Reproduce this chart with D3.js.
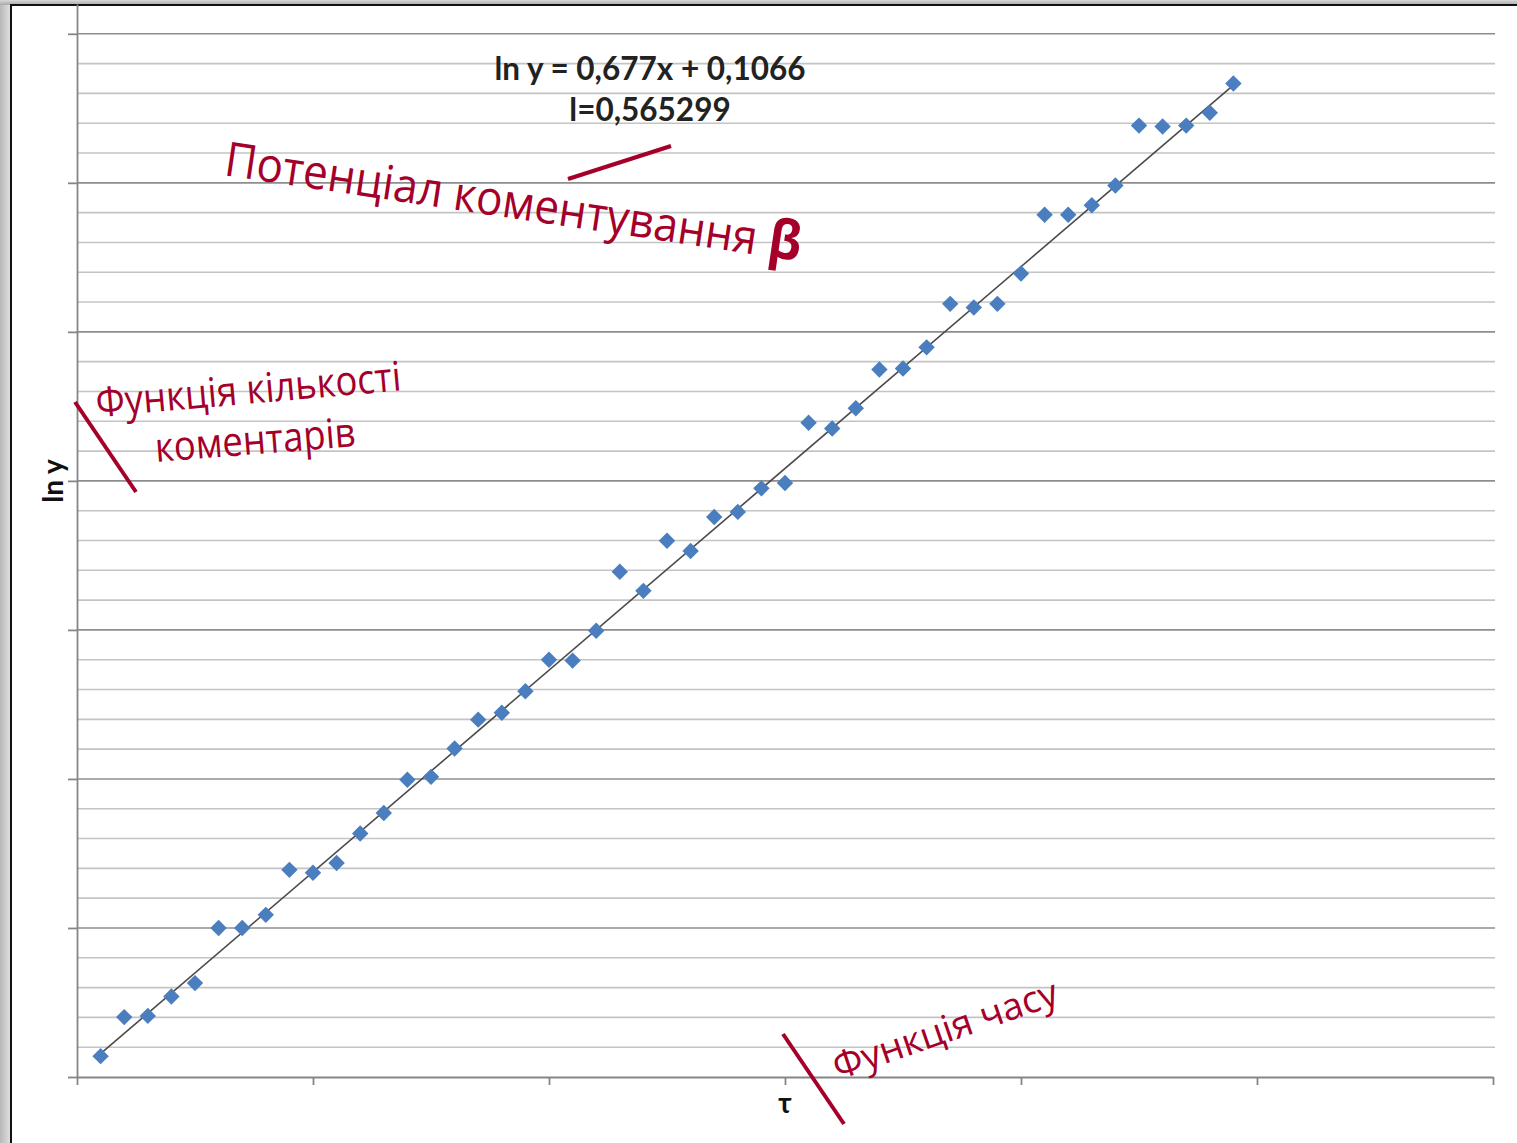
<!DOCTYPE html>
<html><head><meta charset="utf-8">
<script src="https://cdn.jsdelivr.net/npm/d3@7"></script>
<style>body{margin:0;background:#fff;overflow:hidden} svg{display:block}</style>
</head><body>
<script>
// ---- data ----
const xValues = [1,2,3,4,5,6,7,8,9,10,11,12,13,14,15,16,17,18,19,20,21,22,23,24,25,26,27,28,29,30,31,32,33,34,35,36,37,38,39,40,41,42,43,44,45,46,47,48,49];
const lnYValues = [0.70,2.01,2.05,2.70,3.15,5.00,5.00,5.44,6.95,6.85,7.18,8.17,8.86,9.97,10.07,11.02,11.99,12.22,12.94,14.00,13.97,14.97,16.95,16.31,17.99,17.65,18.79,18.96,19.75,19.93,21.95,21.76,22.44,23.74,23.77,24.48,25.94,25.82,25.94,26.96,28.93,28.93,29.25,29.91,31.92,31.89,31.92,32.35,33.33];
const xTicks = [0,10,20,30,40,50,60];
const yMajorTicks = [0,5,10,15,20,25,30,35];
const yMinorTicks = [1,2,3,4,6,7,8,9,11,12,13,14,16,17,18,19,21,22,23,24,26,27,28,29,31,32,33,34];
const trendSlope = 0.677;
const trendIntercept = 0.1066;
const trendRange = [1,49];
const equationLines = ["ln y = 0,677x + 0,1066", "l=0,565299"];
const xTitle = "τ";
const yTitle = "ln y";
const notePotential = "Потенціал коментування ";
const noteBeta = "β";
const noteCountLines = ["Функція кількості", "коментарів"];
const noteTime = "Функція часу";

// ---- layout ----
const W = 1517, H = 1143;
const RED = "#a4002a";
const svg = d3.select("body").append("svg").attr("width", W).attr("height", H);

const defs = svg.append("defs");
const gl = defs.append("linearGradient").attr("id","lg").attr("x1",0).attr("x2",1).attr("y1",0).attr("y2",0);
gl.append("stop").attr("offset","0%").attr("stop-color","#b8b8b8");
gl.append("stop").attr("offset","100%").attr("stop-color","#e2e2e2");
const gt = defs.append("linearGradient").attr("id","tg").attr("x1",0).attr("x2",0).attr("y1",0).attr("y2",1);
gt.append("stop").attr("offset","0%").attr("stop-color","#d8d8d8");
gt.append("stop").attr("offset","100%").attr("stop-color","#a8a8a8");

svg.append("rect").attr("x",0).attr("y",0).attr("width",W).attr("height",H).attr("fill","#fff");
svg.append("rect").attr("x",0).attr("y",0).attr("width",11).attr("height",H).attr("fill","url(#lg)");
svg.append("rect").attr("x",0).attr("y",0).attr("width",W).attr("height",5).attr("fill","url(#tg)");
svg.append("line").attr("x1",11).attr("x2",11).attr("y1",4).attr("y2",H).attr("stroke","#111").attr("stroke-width",2);
svg.append("line").attr("x1",10).attr("x2",W).attr("y1",5).attr("y2",5).attr("stroke","#111").attr("stroke-width",2);

const x = d3.scaleLinear().domain([0,60]).range([77,1493]);
const y = d3.scaleLinear().domain([0,36]).range([1077,4]);

// gridlines
const grid = svg.append("g");
grid.selectAll("line.minor").data(yMinorTicks).join("line")
  .attr("class","minor")
  .attr("x1", x(0)).attr("x2", x(60)+2)
  .attr("y1", d => y(d)).attr("y2", d => y(d))
  .attr("stroke","#c4c4c4").attr("stroke-width",1.6);
grid.selectAll("line.major").data(yMajorTicks.filter(d => d > 0)).join("line")
  .attr("class","major")
  .attr("x1", x(0)).attr("x2", x(60)+2)
  .attr("y1", d => y(d)).attr("y2", d => y(d))
  .attr("stroke","#8e8e8e").attr("stroke-width",1.6);

// axes
const yAxis = svg.append("g").attr("transform",`translate(${x(0)},0)`)
  .call(d3.axisLeft(y).tickValues(yMajorTicks).tickSize(9).tickSizeOuter(0).tickFormat(""));
const xAxis = svg.append("g").attr("transform",`translate(0,${y(0)})`)
  .call(d3.axisBottom(x).tickValues(xTicks).tickSize(8).tickSizeOuter(0).tickFormat(""));
[yAxis, xAxis].forEach(a => {
  a.selectAll("path,line").attr("stroke","#868686").attr("stroke-width",1.8);
});

// trend line
const line = d3.line().x(d => x(d)).y(d => y(trendSlope*d + trendIntercept));
svg.append("path").datum(trendRange).attr("d", line)
  .attr("fill","none").attr("stroke","#4a4a4a").attr("stroke-width",1.6);

// points
const sym = d3.symbol().type(d3.symbolSquare).size(135);
svg.append("g").selectAll("path").data(xValues.map((v,i) => [v, lnYValues[i]])).join("path")
  .attr("d", sym)
  .attr("transform", d => `translate(${x(d[0])},${y(d[1])}) rotate(45)`)
  .attr("fill","#4a7ebf");

// equation
equationLines.forEach((t,i) => {
  svg.append("text").attr("x",650).attr("y", 80 + i*41)
    .attr("text-anchor","middle")
    .attr("font-family","Lato, 'Open Sans', sans-serif").attr("font-weight","bold")
    .attr("font-size",31.5).attr("fill","#222")
    .text(t);
});

// axis titles
svg.append("text").attr("transform","translate(63,481) rotate(-90)")
  .attr("text-anchor","middle").attr("font-family","Lato, sans-serif").attr("font-weight","bold")
  .attr("font-size",28).attr("fill","#111").text(yTitle);
svg.append("text").attr("x",785).attr("y",1113)
  .attr("text-anchor","middle").attr("font-family","Lato, sans-serif").attr("font-weight","bold")
  .attr("font-size",28).attr("fill","#111").text(xTitle);

// annotations
const ann = svg.append("g").attr("fill",RED).attr("font-family","'Open Sans', 'Noto Sans', sans-serif");
const tp = ann.append("text").attr("transform","translate(223,175) rotate(8.5) scale(1,1.08)")
  .attr("font-size",44);
tp.append("tspan").text(notePotential);
tp.append("tspan").attr("font-weight","bold").attr("font-size",50).text(noteBeta);

ann.append("text").attr("transform","translate(97,417) rotate(-5) scale(1,1.12)")
  .attr("font-size",36.5).text(noteCountLines[0]);
ann.append("text").attr("transform","translate(156,462) rotate(-4.5) scale(1,1.12)")
  .attr("font-size",36.5).text(noteCountLines[1]);

ann.append("text").attr("transform","translate(838,1080) rotate(-19)")
  .attr("font-size",37.5).text(noteTime);

const seg = [[[568,179],[671,146]], [[75,402],[136,492]], [[783,1034],[844,1124]]];
svg.append("g").selectAll("line").data(seg).join("line")
  .attr("x1",d=>d[0][0]).attr("y1",d=>d[0][1]).attr("x2",d=>d[1][0]).attr("y2",d=>d[1][1])
  .attr("stroke",RED).attr("stroke-width",4);
</script>
</body></html>
